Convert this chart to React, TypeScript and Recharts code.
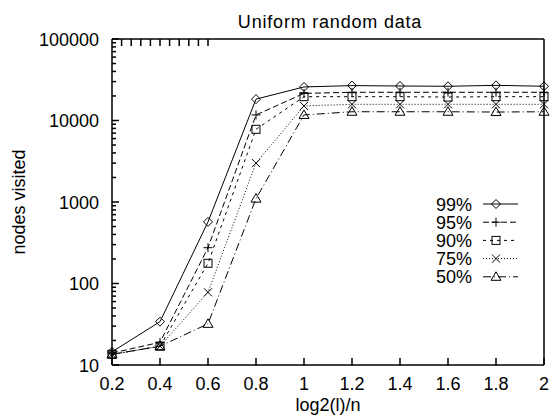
import React from 'react';
import { LineChart, Line, XAxis, YAxis, Legend } from 'recharts';

// x positions (log2(l)/n)
const xValues = [0.2, 0.4, 0.6, 0.8, 1, 1.2, 1.4, 1.6, 1.8, 2];

// nodes visited, one list per percentile
const p99 = [14.5, 34, 570, 18300, 25800, 26800, 26500, 26300, 27000, 26300];
const p95 = [14, 19, 275, 11700, 21500, 22200, 22200, 22200, 22200, 22200];
const p90 = [13.5, 17, 177, 7800, 19600, 19600, 19600, 19400, 19600, 19600];
const p75 = [13.5, 17, 78, 3000, 15100, 15800, 15800, 15800, 15800, 15800];
const p50 = [13.5, 17, 32, 1100, 11700, 12800, 12800, 12800, 12700, 12800];

const seriesNames = ['99%', '95%', '90%', '75%', '50%'];

const yMajorTicks = [10, 100, 1000, 10000, 100000];
const yMinorSteps = [2, 3, 4, 5, 6, 7, 8, 9];

const data = xValues.map((x, i) => ({
  x,
  p99: p99[i],
  p95: p95[i],
  p90: p90[i],
  p75: p75[i],
  p50: p50[i],
}));

const yTicks = [
  ...yMajorTicks,
  ...yMajorTicks.slice(0, -1).flatMap((d) => yMinorSteps.map((m) => d * m)),
].sort((a, b) => a - b);

const series = [
  { key: 'p99', name: seriesNames[0], dash: undefined, marker: 'diamond' },
  { key: 'p95', name: seriesNames[1], dash: '6 3', marker: 'plus' },
  { key: 'p90', name: seriesNames[2], dash: '3 4', marker: 'square' },
  { key: 'p75', name: seriesNames[3], dash: '1 2', marker: 'cross' },
  { key: 'p50', name: seriesNames[4], dash: '8 3 1 3', marker: 'triangle' },
];

const font = "'Liberation Sans', Arial, Helvetica, sans-serif";
const fontSize = 18;

const isDecade = (v: number) => Math.abs(Math.log10(v) - Math.round(Math.log10(v))) < 1e-6;

const Marker = ({ kind, cx, cy }: { kind: string; cx: number; cy: number }) => {
  if (cx == null || cy == null) return null;
  const s = 4.5;
  const common = { fill: 'none', stroke: '#000', strokeWidth: 1 };
  switch (kind) {
    case 'diamond':
      return <path d={`M${cx},${cy - s}L${cx + s},${cy}L${cx},${cy + s}L${cx - s},${cy}Z`} {...common} />;
    case 'plus':
      return <path d={`M${cx - s},${cy}H${cx + s}M${cx},${cy - s}V${cy + s}`} {...common} />;
    case 'square':
      return <rect x={cx - 4} y={cy - 4} width={8} height={8} {...common} />;
    case 'cross':
      return <path d={`M${cx - 4},${cy - 4}L${cx + 4},${cy + 4}M${cx - 4},${cy + 4}L${cx + 4},${cy - 4}`} {...common} />;
    default:
      return <path d={`M${cx},${cy - 5}L${cx + 5},${cy + 3.5}L${cx - 5},${cy + 3.5}Z`} {...common} />;
  }
};

const LeftTick = ({ x, y, payload }: any) => {
  const major = isDecade(payload.value);
  return (
    <g>
      <line x1={x} y1={y} x2={x + (major ? 7 : 4)} y2={y} stroke="#000" strokeWidth={1.5} />
      {major && (
        <text x={x - 13} y={y} dy={6.5} textAnchor="end" fontSize={fontSize} fontFamily={font} fill="#000">
          {payload.value}
        </text>
      )}
    </g>
  );
};

const RightTick = ({ x, y, payload }: any) => {
  const major = isDecade(payload.value);
  return <line x1={x} y1={y} x2={x - (major ? 7 : 4)} y2={y} stroke="#000" strokeWidth={1.5} />;
};

const BottomTick = ({ x, y, payload }: any) => (
  <g>
    <line x1={x} y1={y} x2={x} y2={y - 7} stroke="#000" strokeWidth={1.5} />
    <text x={x} y={y + 25} textAnchor="middle" fontSize={fontSize} fontFamily={font} fill="#000">
      {String(payload.value)}
    </text>
  </g>
);

const TopTick = ({ x, y }: any) => <line x1={x} y1={y} x2={x} y2={y + 7} stroke="#000" strokeWidth={1.5} />;

const LegendBox = () => (
  <svg width={150} height={100}>
    {series.map((s, i) => {
      const cy = 14 + i * 18.2;
      return (
        <g key={s.key}>
          <text x={72} y={cy} dy={6.5} textAnchor="end" fontSize={fontSize} fontFamily={font} fill="#000">
            {s.name}
          </text>
          <line x1={83} x2={118} y1={cy} y2={cy} stroke="#000" strokeDasharray={s.dash} />
          <Marker kind={s.marker} cx={96} cy={cy} />
        </g>
      );
    })}
  </svg>
);

const axisLine = { stroke: '#000', strokeWidth: 1.5 };

const App = () => {
  return (
    <div style={{ position: 'absolute', left: 0, top: 0, width: 554, height: 416, background: '#fff' }}>
      <LineChart width={554} height={416} data={data} margin={{ top: 0, right: 0, bottom: 0, left: 0 }}>
        <XAxis
          dataKey="x"
          type="number"
          domain={[0.2, 2]}
          ticks={xValues}
          interval={0}
          height={51}
          tickSize={0}
          tickMargin={0}
          axisLine={axisLine}
          tickLine={false}
          tick={<BottomTick />}
        />
        <XAxis
          xAxisId="top"
          orientation="top"
          type="number"
          domain={[0.2, 2]}
          ticks={xValues}
          interval={0}
          height={39}
          tickSize={0}
          tickMargin={0}
          axisLine={axisLine}
          tickLine={false}
          tick={<TopTick />}
        />
        <YAxis
          type="number"
          scale="log"
          domain={[10, 100000]}
          ticks={yTicks}
          interval={0}
          width={112}
          tickSize={0}
          tickMargin={0}
          axisLine={axisLine}
          tickLine={false}
          tick={<LeftTick />}
        />
        <YAxis
          yAxisId="right"
          orientation="right"
          type="number"
          scale="log"
          domain={[10, 100000]}
          ticks={yTicks}
          interval={0}
          width={10}
          tickSize={0}
          tickMargin={0}
          axisLine={axisLine}
          tickLine={false}
          tick={<RightTick />}
        />
        <Legend
          layout="vertical"
          align="center"
          verticalAlign="middle"
          wrapperStyle={{ position: 'absolute', left: 400, top: 190, width: 150, height: 100 }}
          content={() => <LegendBox />}
        />
        {series.map((s) => (
          <Line
            key={s.key}
            type="linear"
            dataKey={s.key}
            name={s.name}
            stroke="#000"
            strokeWidth={1}
            strokeDasharray={s.dash}
            dot={(p: any) => <Marker key={`${s.key}-${p.index}`} kind={s.marker} cx={p.cx} cy={p.cy} />}
            activeDot={false}
            isAnimationActive={false}
          />
        ))}
      </LineChart>
      <svg
        width={554}
        height={416}
        style={{ position: 'absolute', left: 0, top: 0, pointerEvents: 'none' }}
      >
        <text
          x={330}
          y={28}
          textAnchor="middle"
          fontSize={fontSize}
          fontFamily={font}
          letterSpacing={0.8}
          fill="#000"
        >
          Uniform random data
        </text>
        <text x={328} y={411} textAnchor="middle" fontSize={fontSize} fontFamily={font} fill="#000">
          log2(l)/n
        </text>
        <text
          x={25}
          y={202}
          transform="rotate(-90 25 202)"
          textAnchor="middle"
          fontSize={fontSize}
          fontFamily={font}
          fill="#000"
        >
          nodes visited
        </text>
      </svg>
    </div>
  );
};

export default App;
